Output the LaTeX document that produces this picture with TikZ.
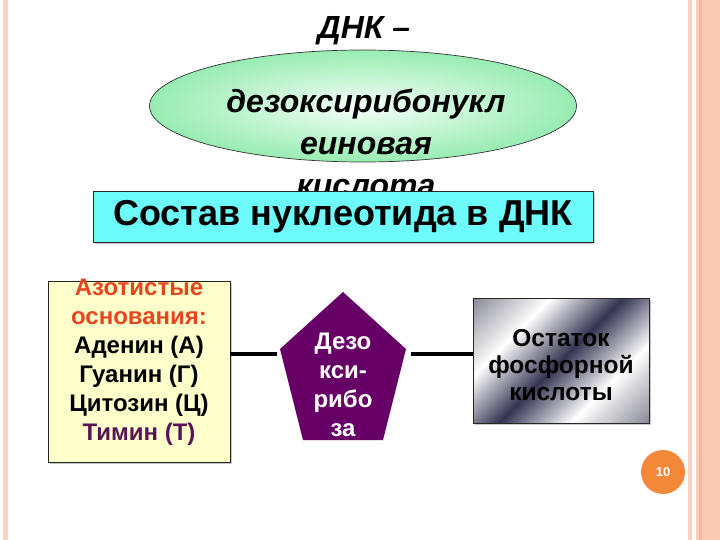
\documentclass[tikz,border=0pt]{standalone}
\usepackage{fontspec}
\setmainfont{Liberation Sans}
\usetikzlibrary{shapes.geometric}
\definecolor{stripe}{HTML}{F9D2C4}
\definecolor{band}{HTML}{FBCAB5}
\definecolor{bandline}{HTML}{F3B59D}
\definecolor{thinline}{HTML}{F6D3BF}
\definecolor{cyanfill}{HTML}{6CFAFA}
\definecolor{paleyellow}{HTML}{FFFFCC}
\definecolor{orangered}{HTML}{E8461E}
\definecolor{plum}{HTML}{5A1456}
\definecolor{pentfill}{HTML}{660066}
\definecolor{badge}{HTML}{F3883B}
\definecolor{mdark}{HTML}{343452}
\definecolor{mgray}{HTML}{8C8C98}
\definecolor{mintout}{HTML}{98ECB2}
\definecolor{mintin}{HTML}{F4FFF8}
\pgfdeclarehorizontalshading{metal}{100bp}{color(0bp)=(mgray); color(15bp)=(mgray); color(33bp)=(white); color(50bp)=(mdark); color(67bp)=(white); color(85bp)=(mgray); color(100bp)=(mgray)}
\begin{document}
\begin{tikzpicture}[x=1pt,y=-1pt,
  boxline/.style={draw=black!85, line width=0.8pt},
  shadowbox/.style={fill=black!22},
  link/.style={line width=3.2pt, black},
  bigital/.style={font=\bfseries\itshape\fontsize{32}{42}\selectfont, align=center},
  boxtext/.style={font=\bfseries\fontsize{24}{29}\selectfont, align=center}]
\useasboundingbox (0,0) rectangle (720,540);
\fill[white] (0,0) rectangle (720,540);
% decorative borders
\fill[stripe] (3,0) rectangle (8,540);
\fill[thinline] (688,0) rectangle (692,540);
\fill[band] (696,0) rectangle (720,540);
\fill[bandline] (699,0) rectangle (702,540);
% title
\node[font=\bfseries\itshape\fontsize{32}{38}\selectfont] (title) at (364,31) {ДНК –};
% ellipse
\node[ellipse, draw=black!80, line width=0.7pt, inner color=mintin, outer color=mintout,
      minimum width=427pt, minimum height=112pt] (ell) at (363,106) {};
\node[bigital] (full) at (366,143) {дезоксирибонукл\\еиновая\\кислота};
% composition box
\fill[shadowbox] (95,193) rectangle (595,244);
\node[boxline, fill=cyanfill, minimum width=500pt, minimum height=51pt,
      font=\bfseries\fontsize{36}{40}\selectfont] (sostav) at (343,216.5) {Состав нуклеотида в ДНК};
% bases box
\fill[shadowbox] (50,283) rectangle (232,464);
\node[boxline, fill=paleyellow, minimum width=182pt, minimum height=181pt] (bases) at (139,371.5) {};
\node[boxtext] (basestext) at (139,362) {\textcolor{orangered}{Азотистые}\\\textcolor{orangered}{основания:}\\Аденин (А)\\Гуанин (Г)\\Цитозин (Ц)\\\textcolor{plum}{Тимин (Т)}};
% pentagon
\coordinate (pT) at (343,292);
\coordinate (pRv) at (406,349);
\coordinate (pBR) at (383,440);
\coordinate (pBL) at (303,440);
\coordinate (pLv) at (280,349);
\fill[pentfill] (pT) -- (pRv) -- (pBR) -- (pBL) -- (pLv) -- cycle;
\node[boxtext, text=white] (sugar) at (343,385) {Дезо\\кси-\\рибо\\за};
\coordinate (pL) at (277,354);
\coordinate (pR) at (411,354);
% phosphate box
\fill[shadowbox] (475,300) rectangle (651,425);
\node[boxline, shading=metal, shading angle=-45, minimum width=176pt, minimum height=125pt] (phos) at (561,360.5) {};
\node[font=\bfseries\fontsize{24.5}{27}\selectfont, align=center] (phostext) at (561,365) {Остаток\\фосфорной\\кислоты};
% connectors
\draw[link] (bases.east |- pL) -- (pL);
\draw[link] (pR) -- (phos.west |- pR);
% page number
\node[circle, fill=badge, minimum size=44pt, inner sep=0pt, text=white,
      font=\bfseries\fontsize{13}{15}\selectfont] (page) at (663,472) {10};
\end{tikzpicture}
\end{document}
